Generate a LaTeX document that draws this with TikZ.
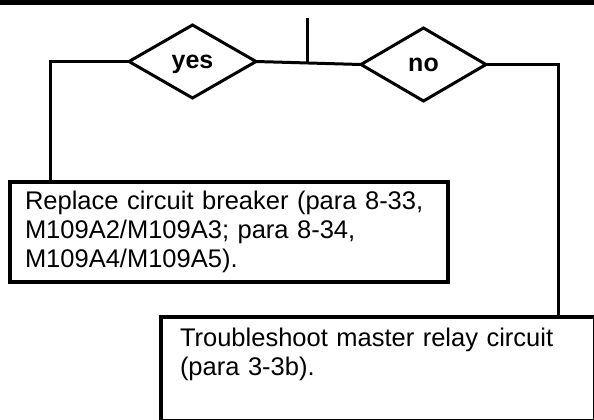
\documentclass[tikz,border=0pt]{standalone}
\usepackage{fontspec}
\setmainfont{Liberation Sans}
\usepackage{tikz}
\usetikzlibrary{positioning, shapes.geometric, calc}
\usepackage{xcolor}
\definecolor{tmink}{HTML}{000000}
\definecolor{tmpaper}{HTML}{FFFFFF}

\tikzset{
  tmdecide/.style={diamond, draw=tmink, fill=tmpaper, line width=3bp, inner sep=0pt, outer sep=0pt,
    text depth=0pt, font=\fontsize{25bp}{29bp}\selectfont\bfseries},
  tmbox/.style={rectangle, draw=tmink, line width=3.5bp, inner ysep=5bp, outer sep=0pt,
    anchor=north west, align=left, font=\fontsize{25.5bp}{29bp}\selectfont},
  tmline/.style={draw=tmink, line width=3bp}
}

\begin{document}
\begin{tikzpicture}[x=1bp, y=-1bp]
    \useasboundingbox (0,0) rectangle (594,419);
    % bar atas
    \fill[tmink] (0,0) rectangle (594,4.5);
    % keputusan
    \node[tmdecide, minimum width=127bp, minimum height=73bp] (yes) at (192.5,61.5) {yes};
    \node[tmdecide, minimum width=125bp, minimum height=73bp] (no) at (423.5,64.5) {no};
    % kotak tindakan
    \node[tmbox, minimum width=438bp, minimum height=100bp, inner xsep=15bp, text width=408bp] (replace) at (10,182)
      {Replace circuit breaker (para 8-33,\\ M109A2/M109A3; para 8-34,\\ M109A4/M109A5).};
    \node[tmbox, inner xsep=19bp, inner ysep=11bp, text width=396bp, text depth=63bp] (trouble) at (161,317)
      {Troubleshoot master relay circuit\\ (para 3-3b).};
    % garis
    \coordinate (feed) at (307,18);
    \coordinate (feedjoin) at (307,63);
    \coordinate (leftturn) at (50,61.5);
    \coordinate (rightturn) at (558,64.5);
    \draw[tmline] (feed) -- (feedjoin);
    \draw[tmline] (yes.east) -- (no.west);
    \draw[tmline] (yes.west) -- (leftturn) -- (leftturn |- replace.north);
    \draw[tmline] (no.east) -- (rightturn) -- (rightturn |- trouble.north);
\end{tikzpicture}
\end{document}
